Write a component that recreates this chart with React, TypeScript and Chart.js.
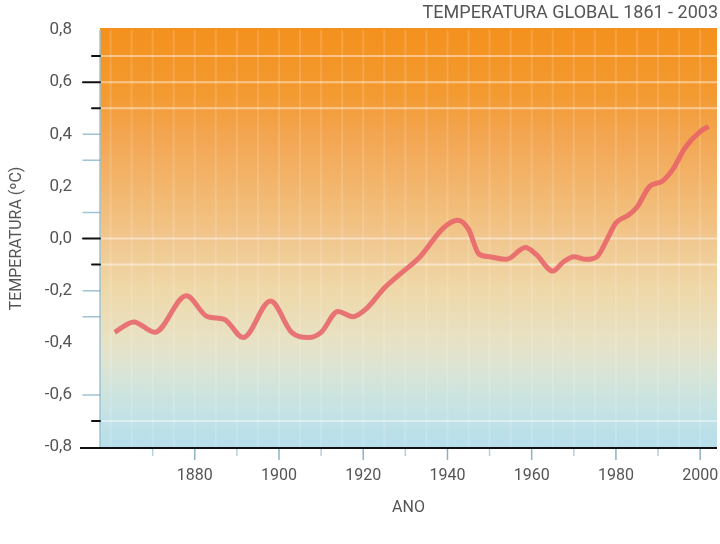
import React, { useEffect, useRef } from "react";
import { Chart, registerables } from "chart.js";

Chart.register(...registerables);

const YEARS = [1861, 1865.5, 1870.5, 1878, 1883, 1887, 1891.5, 1898, 1903, 1907, 1910, 1914, 1917.5, 1921, 1925, 1928.5, 1933.5, 1939, 1942.5, 1945, 1947.5, 1950, 1954, 1958.5, 1961, 1965, 1967.5, 1970, 1973, 1975.5, 1978, 1980, 1983, 1985, 1988, 1991, 1993.5, 1996.5, 2000, 2002];
const TEMPS = [-0.36, -0.32, -0.36, -0.22, -0.3, -0.31, -0.38, -0.24, -0.36, -0.38, -0.36, -0.28, -0.3, -0.265, -0.19, -0.14, -0.07, 0.04, 0.07, 0.035, -0.06, -0.07, -0.08, -0.035, -0.06, -0.125, -0.09, -0.07, -0.08, -0.07, 0.0, 0.06, 0.09, 0.12, 0.2, 0.22, 0.265, 0.35, 0.41, 0.43];

const X_LABEL_YEARS = [1880, 1900, 1920, 1940, 1960, 1980, 2000];
const X_MINOR_YEARS = [1870, 1890, 1910, 1930, 1950, 1970, 1990];
const Y_TICKS = [0.8, 0.6, 0.4, 0.2, 0.0, -0.2, -0.4, -0.6, -0.8];
const DARK_MARKS = [0.7, 0.6, 0.5, 0.0, -0.1, -0.7];
const LIGHT_MARKS = [0.4, 0.3, 0.1, -0.2, -0.3, -0.6];
const WHITE_LINES = [0.7, 0.6, 0.5, 0.0, -0.1, -0.7];
const STRIPE_YEARS = [1860, 1865, 1870, 1875, 1880, 1885, 1890, 1895, 1900, 1905, 1910, 1915, 1920, 1925, 1930, 1935, 1940, 1945, 1950, 1955, 1960, 1965, 1970, 1975, 1980, 1985, 1990, 1995, 2000];

const TITLE = "TEMPERATURA GLOBAL 1861 - 2003";
const Y_TITLE = "TEMPERATURA (ºC)";
const X_TITLE = "ANO";

const FONT = "Roboto";

const backdrop = {
  id: "backdrop",
  beforeDraw(chart: any) {
    const { ctx, chartArea: a, scales } = chart;
    const y = scales.y;
    const x = scales.x;
    const top = y.getPixelForValue(0.8);
    ctx.save();
    ctx.fillStyle = "#ffffff";
    ctx.fillRect(0, 0, chart.width, chart.height);
    const g = ctx.createLinearGradient(0, top, 0, a.bottom);
    g.addColorStop(0, "#f4911e");
    g.addColorStop(0.15, "#f39a30");
    g.addColorStop(0.25, "#f3a550");
    g.addColorStop(0.45, "#f2c07f");
    g.addColorStop(0.5, "#f1c68e");
    g.addColorStop(0.62, "#efd8a8");
    g.addColorStop(0.75, "#e7e2c6");
    g.addColorStop(0.81, "#dce4d4");
    g.addColorStop(0.87, "#cde4de");
    g.addColorStop(0.94, "#c0e1e7");
    g.addColorStop(1, "#b6deea");
    ctx.fillStyle = g;
    ctx.fillRect(a.left, top - 2, a.right - a.left, a.bottom - top + 2);
    ctx.strokeStyle = "rgba(255,255,255,0.15)";
    ctx.lineWidth = 2;
    STRIPE_YEARS.forEach((yr) => {
      const px = x.getPixelForValue(yr);
      ctx.beginPath();
      ctx.moveTo(px, top);
      ctx.lineTo(px, a.bottom);
      ctx.stroke();
    });
    ctx.strokeStyle = "rgba(255,255,255,0.45)";
    ctx.lineWidth = 2;
    WHITE_LINES.forEach((v) => {
      const py = y.getPixelForValue(v);
      ctx.beginPath();
      ctx.moveTo(a.left, py);
      ctx.lineTo(a.right, py);
      ctx.stroke();
    });
    ctx.strokeStyle = "#9cc3d3";
    ctx.lineWidth = 1.5;
    ctx.beginPath();
    ctx.moveTo(a.left, top);
    ctx.lineTo(a.left, a.bottom);
    ctx.stroke();
    ctx.restore();
  },
  afterDraw(chart: any) {
    const { ctx, chartArea: a, scales } = chart;
    const y = scales.y;
    const x = scales.x;
    ctx.save();
    ctx.lineCap = "round";
    LIGHT_MARKS.forEach((v) => {
      const py = y.getPixelForValue(v);
      ctx.strokeStyle = "rgba(120,170,195,0.7)";
      ctx.lineWidth = 1.5;
      ctx.beginPath();
      ctx.moveTo(a.left - 17, py);
      ctx.lineTo(a.left, py);
      ctx.stroke();
    });
    DARK_MARKS.forEach((v) => {
      const py = y.getPixelForValue(v);
      const long = Math.abs(v - 0.6) < 1e-6 || Math.abs(v) < 1e-6;
      ctx.strokeStyle = "#111";
      ctx.lineWidth = 2;
      ctx.beginPath();
      ctx.moveTo(a.left - (long ? 17 : 8), py);
      ctx.lineTo(a.left, py);
      ctx.stroke();
    });
    ctx.lineCap = "butt";
    ctx.strokeStyle = "#111";
    ctx.lineWidth = 2;
    ctx.beginPath();
    ctx.moveTo(a.left - 20, a.bottom + 1);
    ctx.lineTo(a.right, a.bottom + 1);
    ctx.stroke();
    X_LABEL_YEARS.forEach((yr) => {
      const px = x.getPixelForValue(yr);
      ctx.strokeStyle = "rgba(110,160,185,0.8)";
      ctx.lineWidth = 1.5;
      ctx.beginPath();
      ctx.moveTo(px, a.bottom + 2);
      ctx.lineTo(px, a.bottom + 13);
      ctx.stroke();
    });
    X_MINOR_YEARS.forEach((yr) => {
      const px = x.getPixelForValue(yr);
      ctx.strokeStyle = "rgba(130,175,200,0.6)";
      ctx.lineWidth = 1.5;
      ctx.beginPath();
      ctx.moveTo(px, a.bottom + 2);
      ctx.lineTo(px, a.bottom + 9);
      ctx.stroke();
    });
    ctx.fillStyle = "#555";
    ctx.font = `18px ${FONT}`;
    ctx.textAlign = "right";
    ctx.textBaseline = "middle";
    ctx.fillText(TITLE, 718, 13);
    ctx.restore();
  },
};

export default function App() {
  const ref = useRef<HTMLCanvasElement | null>(null);
  useEffect(() => {
    if (!ref.current) return;
    const chart = new Chart(ref.current, {
      type: "line",
      data: {
        datasets: [
          {
            data: YEARS.map((yr, i) => ({ x: yr, y: TEMPS[i] })),
            borderColor: "rgba(232,96,104,0.85)",
            borderWidth: 5,
            pointRadius: 0,
            tension: 0.4,
            cubicInterpolationMode: "monotone",
            fill: false,
          },
        ],
      },
      options: {
        responsive: false,
        animation: false,
        layout: { padding: { top: 30, right: 3, left: 0, bottom: 0 } },
        plugins: { legend: { display: false }, tooltip: { enabled: false } },
        scales: {
          x: {
            type: "linear",
            min: 1857.5,
            max: 2004,
            grid: { display: false, drawTicks: false },
            border: { display: false },
            afterBuildTicks: (s: any) => {
              s.ticks = X_LABEL_YEARS.map((v) => ({ value: v }));
            },
            afterFit: (s: any) => {
              s.height = 97;
              s.paddingLeft = 0;
              s.paddingRight = 0;
            },
            ticks: {
              padding: 19,
              color: "#555",
              font: { family: FONT, size: 16 },
              callback: (v: any) => String(v),
              maxRotation: 0,
            },
            title: {
              display: true,
              text: X_TITLE,
              color: "#555",
              font: { family: FONT, size: 16 },
              padding: { top: 0, bottom: 26 },
            },
          },
          y: {
            min: -0.8,
            max: 0.8,
            grid: { display: false, drawTicks: false },
            border: { display: false },
            afterBuildTicks: (s: any) => {
              s.ticks = Y_TICKS.map((v) => ({ value: v }));
            },
            afterFit: (s: any) => {
              s.width = 100;
              s.paddingTop = 0;
              s.paddingBottom = 0;
            },
            ticks: {
              padding: 28,
              color: "#555",
              font: { family: FONT, size: 17 },
              callback: (v: any) => Number(v).toFixed(1).replace(".", ","),
            },
            title: {
              display: true,
              text: Y_TITLE,
              color: "#555",
              font: { family: FONT, size: 16 },
              padding: { top: 7, bottom: 0 },
            },
          },
        },
      },
      plugins: [backdrop],
    });
    return () => chart.destroy();
  }, []);
  return (
    <div style={{ position: "absolute", left: 0, top: 0, width: 720, height: 544, background: "#fff" }}>
      <canvas ref={ref} width={720} height={544} style={{ display: "block" }} />
    </div>
  );
}
